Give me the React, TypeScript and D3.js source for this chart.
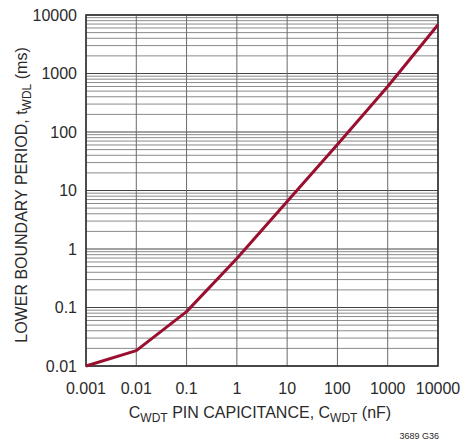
import React from "react";
import * as d3 from "d3";

const capNF = [0.001, 0.01, 0.1, 1, 10, 100, 1000, 10000];
const periodMs = [0.01, 0.0183, 0.085, 0.69, 6.5, 61, 600, 6800];
const xTicks = [0.001, 0.01, 0.1, 1, 10, 100, 1000, 10000];
const xTickLabels = ["0.001", "0.01", "0.1", "1", "10", "100", "1000", "10000"];
const yTicks = [0.01, 0.1, 1, 10, 100, 1000, 10000];
const yTickLabels = ["0.01", "0.1", "1", "10", "100", "1000", "10000"];

const W = 463, H = 442;
const L = 86, R = 438, T = 15, B = 366;
const FONT = "'Liberation Sans', Arial, sans-serif";

export default function App() {
  const x = d3.scaleLog().domain([0.001, 10000]).range([L, R]);
  const y = d3.scaleLog().domain([0.01, 10000]).range([B, T]);

  const minorY: number[] = [];
  for (let e = -2; e < 4; e++) {
    for (let m = 2; m <= 9; m++) minorY.push(m * Math.pow(10, e));
  }

  const line = d3
    .line<number>()
    .x((_, i) => x(capNF[i]))
    .y((d) => y(d));
  const path = line(periodMs) || "";

  return (
    <svg
      width={W}
      height={H}
      style={{ position: "absolute", left: 0, top: 0, background: "#fff" }}
      fontFamily={FONT}
    >
      <rect x={0} y={0} width={W} height={H} fill="#fff" />
      {minorY.map((v, i) => (
        <line key={"my" + i} x1={L} x2={R} y1={y(v)} y2={y(v)} stroke="#8a8a8a" strokeWidth={1} />
      ))}
      {yTicks.map((v, i) => (
        <line key={"My" + i} x1={L} x2={R} y1={y(v)} y2={y(v)} stroke="#444" strokeWidth={1} />
      ))}
      {xTicks.map((v, i) => (
        <line key={"Mx" + i} x1={x(v)} x2={x(v)} y1={T} y2={B} stroke="#6a6a6a" strokeWidth={1} />
      ))}
      <rect x={L} y={T} width={R - L} height={B - T} fill="none" stroke="#333" strokeWidth={1.6} />
      <path d={path} fill="none" stroke="#9a0f30" strokeWidth={3} strokeLinejoin="round" />
      {yTicks.map((v, i) => (
        <text key={"yt" + i} x={77} y={y(v)} dy="0.36em" textAnchor="end" fontSize={16} fill="#2a2a2a">
          {yTickLabels[i]}
        </text>
      ))}
      {xTicks.map((v, i) => (
        <text key={"xt" + i} x={x(v)} y={394} textAnchor="middle" fontSize={16} fill="#2a2a2a">
          {xTickLabels[i]}
        </text>
      ))}
      <text x={260} y={418} textAnchor="middle" fontSize={16} fill="#2a2a2a">
        C<tspan fontSize={12} dy={4}>WDT</tspan>
        <tspan dy={-4}> PIN CAPICITANCE, C</tspan>
        <tspan fontSize={12} dy={4}>WDT</tspan>
        <tspan dy={-4}> (nF)</tspan>
      </text>
      <text
        transform={`translate(27, 195) rotate(-90)`}
        textAnchor="middle"
        fontSize={16}
        fill="#2a2a2a"
      >
        LOWER BOUNDARY PERIOD, t<tspan fontSize={12} dy={4}>WDL</tspan>
        <tspan dy={-4}> (ms)</tspan>
      </text>
      <text x={439} y={439} textAnchor="end" fontSize={9} fill="#2a2a2a">
        3689 G36
      </text>
    </svg>
  );
}
